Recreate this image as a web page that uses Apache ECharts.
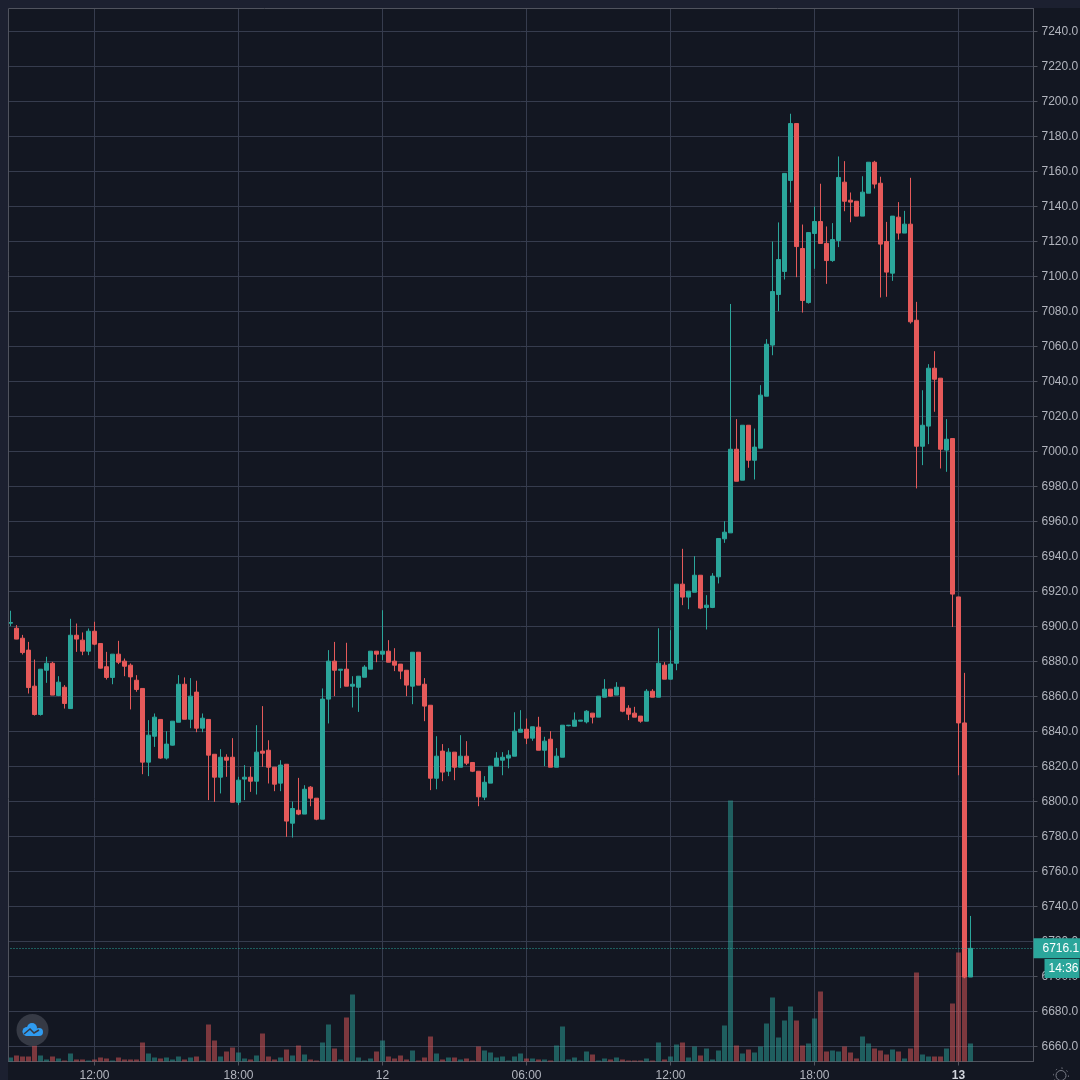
<!DOCTYPE html>
<html>
<head>
<meta charset="utf-8">
<style>
  html, body { margin: 0; padding: 0; background: #131722; }
  #chart { width: 1080px; height: 1080px; }
</style>
<script src="https://cdn.jsdelivr.net/npm/echarts@6/dist/echarts.min.js"></script>
</head>
<body>
<div id="chart"></div>
<script>
// 15 minute candles, one row = 10 candles
const opens = [
  6901.9, 6899, 6893.3, 6886.5, 6865.9, 6849.7, 6875, 6879, 6860.6, 6865.3,
  6853.1, 6895, 6892.2, 6885.9, 6897.3, 6890.3, 6877, 6870.9, 6884.2, 6880.2,
  6877.9, 6869.3, 6864.6, 6822.5, 6837.3, 6846.9, 6824.8, 6832.2, 6845.3, 6867,
  6847, 6862.5, 6841.9, 6846.9, 6827, 6813.9, 6825.3, 6825.3, 6799.6, 6812.8,
  6813.9, 6811.6, 6828.8, 6829.3, 6819.6, 6810.5, 6821.3, 6787.6, 6795, 6792.8,
  6808.2, 6801.9, 6789.9, 6858.5, 6880.2, 6875, 6875.6, 6865.9, 6865.3, 6871,
  6875.6, 6885.9, 6884.2, 6885.9, 6880.2, 6878.5, 6875, 6865.9, 6885.3, 6867,
  6855, 6813.3, 6828.8, 6817.3, 6828.2, 6819.6, 6825.9, 6822.3, 6817.3, 6802.5,
  6810.5, 6820.2, 6823.6, 6824.8, 6825.9, 6839.6, 6841.3, 6836.2, 6842.5, 6829.3,
  6835.6, 6819.6, 6825.3, 6843.3, 6843, 6845.9, 6845.5, 6850.5, 6848.2, 6859.6,
  6864.2, 6860.8, 6865.3, 6853.3, 6850.5, 6848.8, 6845.9, 6863, 6859.6, 6877.9,
  6869.9, 6879, 6924.2, 6916.8, 6919.6, 6929.3, 6910.9, 6910.9, 6928.4, 6950.1,
  6953.5, 7001.3, 6983.6, 7015, 6995, 7001.9, 7031.6, 7060.8, 7089.7, 7102.9,
  7154.9, 7187.4, 7116, 7085.1, 7124.6, 7131.4, 7118.9, 7109.1, 7120.6, 7153.9,
  7143.6, 7143, 7134.5, 7147.6, 7165.3, 7153.3, 7120, 7101.9, 7133.9, 7124.8,
  7129.9, 7075, 7003, 7014.5, 7047.6, 7041.9, 7000.8, 7007.4, 6916.9, 6844.9,
  6699.7
];
const closes = [
  6902.3, 6892.8, 6885.1, 6865.1, 6849.7, 6875.6, 6879, 6860.8, 6868.2, 6856,
  6895, 6892.8, 6885.9, 6897.3, 6889.9, 6876.2, 6870.9, 6884.2, 6879.6, 6877.3,
  6871.2, 6864, 6822.5, 6837.9, 6848.2, 6824.8, 6832.8, 6845.9, 6867, 6847,
  6860.2, 6841.9, 6847.6, 6826.5, 6813.9, 6825.3, 6823.6, 6799.6, 6812.2, 6813.9,
  6811.6, 6828.2, 6827.6, 6819.6, 6809.9, 6820.8, 6788.8, 6796, 6792.8, 6807,
  6801.9, 6789.9, 6858.5, 6880.2, 6875, 6875.6, 6865.9, 6867, 6871.6, 6876.8,
  6885.9, 6884.2, 6885.9, 6879.6, 6877.9, 6874.5, 6866.5, 6885.3, 6866.5, 6854.5,
  6813.3, 6825.9, 6816.8, 6828.2, 6819.6, 6825.9, 6821.9, 6817.3, 6802.7, 6811,
  6820.2, 6824.8, 6825.3, 6826.5, 6840.2, 6841.3, 6836.2, 6842.7, 6829.3, 6834.5,
  6819.6, 6825.9, 6843.6, 6843.6, 6846.5, 6846.5, 6851.6, 6848.2, 6860.2, 6864.2,
  6860.2, 6865.3, 6851.6, 6849.9, 6848.2, 6845.9, 6863, 6859.6, 6879, 6869.9,
  6878.5, 6924.2, 6916.8, 6920.2, 6929.3, 6910.5, 6912.2, 6928.8, 6950.3, 6953.9,
  7001.3, 6983, 7015, 6995, 7002.5, 7032.2, 7061.3, 7091.4, 7109.7, 7158.9,
  7187.4, 7117.1, 7086.3, 7125.1, 7131.4, 7118.9, 7109.1, 7121.1, 7156.6, 7143,
  7142.5, 7134.5, 7148.2, 7165.3, 7152.8, 7118.5, 7102.5, 7134.5, 7124.8, 7129.9,
  7074.1, 7003, 7015, 7047.6, 7041.3, 7001.3, 7007, 6918.5, 6844.9, 6699.7,
  6716.1
];
const lows = [
  6900.2, 6892.7, 6884, 6861.7, 6849.1, 6849.1, 6867.8, 6860.8, 6860.2, 6853.1,
  6853.1, 6885.5, 6883.6, 6883.6, 6889.3, 6876, 6869.7, 6867, 6878.5, 6871.6,
  6852.6, 6862.7, 6815.6, 6814.5, 6831.2, 6824.4, 6824, 6832, 6845.3, 6847,
  6841.9, 6839.6, 6839.6, 6800.8, 6799.8, 6804.6, 6814.1, 6799.6, 6797.9, 6800.8,
  6805.5, 6804, 6819.8, 6810.3, 6805.9, 6805.9, 6779.8, 6779.4, 6792.2, 6792.8,
  6797.3, 6789.3, 6789.9, 6844.6, 6860.2, 6864.8, 6865.9, 6853.7, 6851.2, 6871,
  6875.6, 6879.6, 6880.8, 6879.6, 6874.5, 6869.9, 6860.2, 6855.6, 6866.5, 6845.9,
  6806.5, 6807, 6811.6, 6814.5, 6812.2, 6819.6, 6820.8, 6816.8, 6797.3, 6800.8,
  6810.5, 6820.2, 6815, 6819, 6825.9, 6839.6, 6832.8, 6834.7, 6829.3, 6820.2,
  6819.6, 6819.6, 6825.3, 6843, 6843, 6845.9, 6844.6, 6844.6, 6848.2, 6859.6,
  6859.8, 6860.8, 6851, 6846.5, 6848.2, 6845, 6845.9, 6859.6, 6859.6, 6869.9,
  6869.9, 6875, 6912.2, 6909.9, 6919.6, 6909.9, 6898.3, 6910.5, 6924.6, 6947.8,
  6953.5, 6983, 6983.6, 6990.7, 6984, 7001.9, 7031.6, 7055, 7080.2, 7098.3,
  7142.3, 7099.6, 7079.4, 7084.5, 7104.4, 7118.9, 7095.8, 7108.4, 7116.8, 7137.3,
  7131, 7134.5, 7134.5, 7147.6, 7150.3, 7088, 7088.4, 7097.5, 7121.1, 7124.8,
  7073.1, 6978.9, 6992.2, 7004.2, 7022.7, 6990.3, 6988.4, 6899.7, 6815, 6699,
  6699.7
];
const highs = [
  6909, 6900.8, 6895.2, 6891.2, 6881.1, 6875.6, 6882.7, 6879.8, 6871.6, 6866.5,
  6904.4, 6901.7, 6896.6, 6898.9, 6902.7, 6890.3, 6885.5, 6884.2, 6891.8, 6881.7,
  6878.9, 6872.2, 6864.6, 6846.5, 6850.3, 6846.9, 6840.2, 6845.9, 6872.2, 6870.9,
  6870.5, 6869, 6850.3, 6846.9, 6827, 6829.9, 6827, 6836.2, 6814.1, 6820.8,
  6819.8, 6843.6, 6854.5, 6835, 6819.6, 6823.6, 6821.3, 6800, 6813.5, 6809.3,
  6808.8, 6801.9, 6864.6, 6886.5, 6891.2, 6875.6, 6890.7, 6871.6, 6871.6, 6877.9,
  6885.9, 6885.9, 6909.3, 6892.2, 6887.6, 6878.5, 6875, 6885.3, 6885.3, 6870.5,
  6855, 6837.3, 6832.8, 6830.5, 6828.2, 6837.9, 6834.5, 6822.3, 6817.3, 6814.5,
  6820.2, 6828.2, 6828.2, 6829.3, 6851, 6852.2, 6847.4, 6842.7, 6848.4, 6837,
  6840.2, 6830.5, 6843.6, 6843.6, 6850.9, 6846.5, 6852.2, 6850.5, 6860.2, 6869.9,
  6864.2, 6868.2, 6865.3, 6855, 6854.1, 6848.8, 6864.2, 6864.2, 6899, 6879.6,
  6897.9, 6924.2, 6944.4, 6920.2, 6940.2, 6929.3, 6917.9, 6930.5, 6950.5, 6960.2,
  7084.3, 7018.5, 7015, 7015, 7013.1, 7037.9, 7064.2, 7120, 7130.9, 7158.9,
  7193, 7187.4, 7129.7, 7125.1, 7140, 7153, 7128.6, 7130.5, 7168.6, 7165.9,
  7148, 7143, 7157.3, 7165.3, 7166.1, 7157, 7131.2, 7134.5, 7142.5, 7137.5,
  7156.4, 7085.5, 7035, 7049.9, 7057.3, 7041.9, 7018.5, 7007.4, 6916.9, 6873.5,
  6734.6
];
const volumes = [
  4, 6, 5, 5, 16, 6, 2, 5, 3, 1,
  8, 2, 2, 1, 2, 4, 3, 1, 4, 2,
  2, 2, 19, 8, 4, 3, 4, 2, 5, 2,
  4, 5, 1, 37, 21, 5, 10, 14, 9, 3,
  2, 6, 28, 5, 2, 4, 12, 6, 16, 7,
  2, 1, 19, 37, 13, 2, 44, 67, 4, 1,
  3, 10, 21, 5, 3, 6, 2, 11, 1, 4,
  25, 8, 2, 4, 4, 2, 3, 1, 15, 11,
  9, 4, 5, 1, 5, 8, 3, 3, 2, 2,
  1, 16, 35, 2, 4, 1, 10, 7, 1, 3,
  2, 4, 2, 1, 1, 1, 3, 1, 19, 2,
  5, 17, 19, 4, 15, 6, 13, 2, 11, 36,
  261, 16, 8, 12, 9, 15, 38, 64, 24, 41,
  55, 41, 16, 18, 43, 70, 10, 11, 10, 15,
  9, 3, 25, 18, 13, 11, 7, 12, 10, 3,
  13, 89, 7, 5, 5, 5, 13, 58, 109, 150,
  18
];
const yTicks = [
  6660, 6680, 6700, 6720, 6740, 6760, 6780, 6800, 6820, 6840, 6860, 6880, 6900, 6920, 6940,
  6960, 6980, 7000, 7020, 7040, 7060, 7080, 7100, 7120, 7140, 7160, 7180, 7200, 7220, 7240
];
const timeTicks = [14, 38, 62, 86, 110, 134, 158];
const timeLabels = ["12:00", "18:00", "12", "06:00", "12:00", "18:00", "13"];
const lastPrice = 6716.1;
const countdown = "14:36";

// slots run on past the last candle, the empty space on the right of the chart
const slotCount = 171;
const categories = [];
for (let i = 0; i < slotCount; i++) {
  const mins = 8 * 60 + 30 + i * 15;
  const hh = Math.floor(mins / 60) % 24;
  const mm = mins % 60;
  categories.push((hh < 10 ? "0" : "") + hh + ":" + (mm < 10 ? "0" : "") + mm);
}

const upColor = "#2ba69b";
const downColor = "#e65a5a";
const textColor = "#b2b5be";
const lineColor = "#363c4e";
const axisColor = "#50535e";
const font = "Liberation Sans";

const showTick = function(index) {
  return timeTicks.indexOf(index) >= 0;
};

const chart = echarts.init(document.getElementById("chart"), null, { renderer: "canvas" });

chart.setOption({
  animation: false,
  backgroundColor: "#131722",
  textStyle: { fontFamily: font },
  grid: { left: 7.5, right: 46.5, top: 8.5, bottom: 18.5, containLabel: false, outerBoundsMode: "none" },
  xAxis: {
    type: "category",
    data: categories,
    boundaryGap: true,
    axisLine: { show: true, lineStyle: { color: axisColor } },
    axisTick: { show: true, alignWithLabel: true, interval: showTick, length: 4, lineStyle: { color: axisColor } },
    splitLine: { show: true, alignWithLabel: true, interval: showTick, lineStyle: { color: lineColor } },
    axisLabel: {
      interval: showTick,
      color: textColor,
      fontSize: 12,
      margin: 8,
      formatter: function(value, index) {
        const label = timeLabels[timeTicks.indexOf(index)];
        return label === "13" ? "{day|13}" : label;
      },
      rich: { day: { color: "#d1d4dc", fontWeight: "bold", fontSize: 12 } }
    }
  },
  yAxis: [
    {
      type: "value",
      position: "right",
      min: 6651.43,
      max: 7253.14,
      axisLine: { show: true, lineStyle: { color: axisColor } },
      axisTick: { show: true, length: 4, customValues: yTicks, lineStyle: { color: axisColor } },
      splitLine: { show: true, lineStyle: { color: lineColor } },
      axisLabel: {
        customValues: yTicks,
        color: textColor,
        fontSize: 12,
        margin: 8,
        padding: [2, 0, 0, 0],
        formatter: function(value) {
          return value.toFixed(1);
        }
      }
    },
    { type: "value", show: false, min: 0, max: 1053, splitLine: { show: false } }
  ],
  series: [
    {
      name: "Volume",
      type: "bar",
      yAxisIndex: 1,
      barWidth: 5,
      data: volumes,
      z: 1,
      itemStyle: {
        color: function(params) {
          return closes[params.dataIndex] >= opens[params.dataIndex] ? "rgba(43,166,155,0.5)" : "rgba(230,90,90,0.5)";
        }
      }
    },
    {
      name: "Price",
      type: "candlestick",
      barWidth: 4,
      z: 2,
      data: opens.map(function(open, i) {
        return [open, closes[i], lows[i], highs[i]];
      }),
      itemStyle: {
        color: upColor,
        color0: downColor,
        borderColor: upColor,
        borderColor0: downColor,
        borderWidth: 1
      },
      markLine: {
        silent: true,
        symbol: "none",
        animation: false,
        data: [
          {
            yAxis: lastPrice,
            lineStyle: { color: upColor, type: [1, 2], width: 1 },
            label: {
              show: true,
              position: "end",
              distance: 0,
              formatter: String(lastPrice),
              color: "#fff",
              fontSize: 12,
              backgroundColor: upColor,
              padding: [4, 1, 3, 9],
              lineHeight: 13
            }
          },
          {
            yAxis: lastPrice - 11.5,
            lineStyle: { color: "transparent", width: 0 },
            label: {
              show: true,
              position: "end",
              distance: 11,
              formatter: countdown,
              color: "#fff",
              fontSize: 12,
              backgroundColor: upColor,
              padding: [3, 1, 3, 4],
              lineHeight: 13
            }
          }
        ]
      }
    }
  ],
  graphic: [
    // lighter strip round the top and left of the plot
    { type: "rect", z: 100, silent: true, shape: { x: 0, y: 0, width: 1080, height: 8 }, style: { fill: "#1c2030" } },
    { type: "rect", z: 100, silent: true, shape: { x: 0, y: 0, width: 8, height: 1080 }, style: { fill: "#1c2030" } },
    { type: "line", z: 100, silent: true, shape: { x1: 8.5, y1: 8.5, x2: 1033.5, y2: 8.5 }, style: { stroke: axisColor } },
    { type: "line", z: 100, silent: true, shape: { x1: 8.5, y1: 8.5, x2: 8.5, y2: 1061.5 }, style: { stroke: axisColor } },
    // logo
    { type: "circle", z: 100, silent: true, shape: { cx: 32.5, cy: 1030, r: 16 }, style: { fill: "#363a45" } },
    { type: "circle", z: 101, silent: true, shape: { cx: 27, cy: 1031.5, r: 4.5 }, style: { fill: "#2f9bf0" } },
    { type: "circle", z: 101, silent: true, shape: { cx: 32, cy: 1028, r: 5 }, style: { fill: "#2f9bf0" } },
    { type: "circle", z: 101, silent: true, shape: { cx: 39, cy: 1032, r: 4 }, style: { fill: "#2f9bf0" } },
    { type: "rect", z: 101, silent: true, shape: { x: 26, y: 1031, width: 13, height: 5 }, style: { fill: "#2f9bf0" } },
    {
      type: "polyline",
      z: 102,
      silent: true,
      shape: { points: [[24, 1034], [30, 1029], [34, 1033], [39, 1030]] },
      style: { stroke: "#363a45", fill: "none", lineWidth: 1.5 }
    },
    // settings sun
    { type: "circle", z: 100, silent: true, shape: { cx: 1061, cy: 1075.5, r: 5 }, style: { stroke: "#787b86", fill: "none" } },
    {
      type: "circle",
      z: 100,
      silent: true,
      shape: { cx: 1061, cy: 1075.5, r: 7.5 },
      style: { stroke: "#787b86", fill: "none", lineDash: [1.5, 4.4] }
    }
  ]
});
</script>
</body>
</html>
